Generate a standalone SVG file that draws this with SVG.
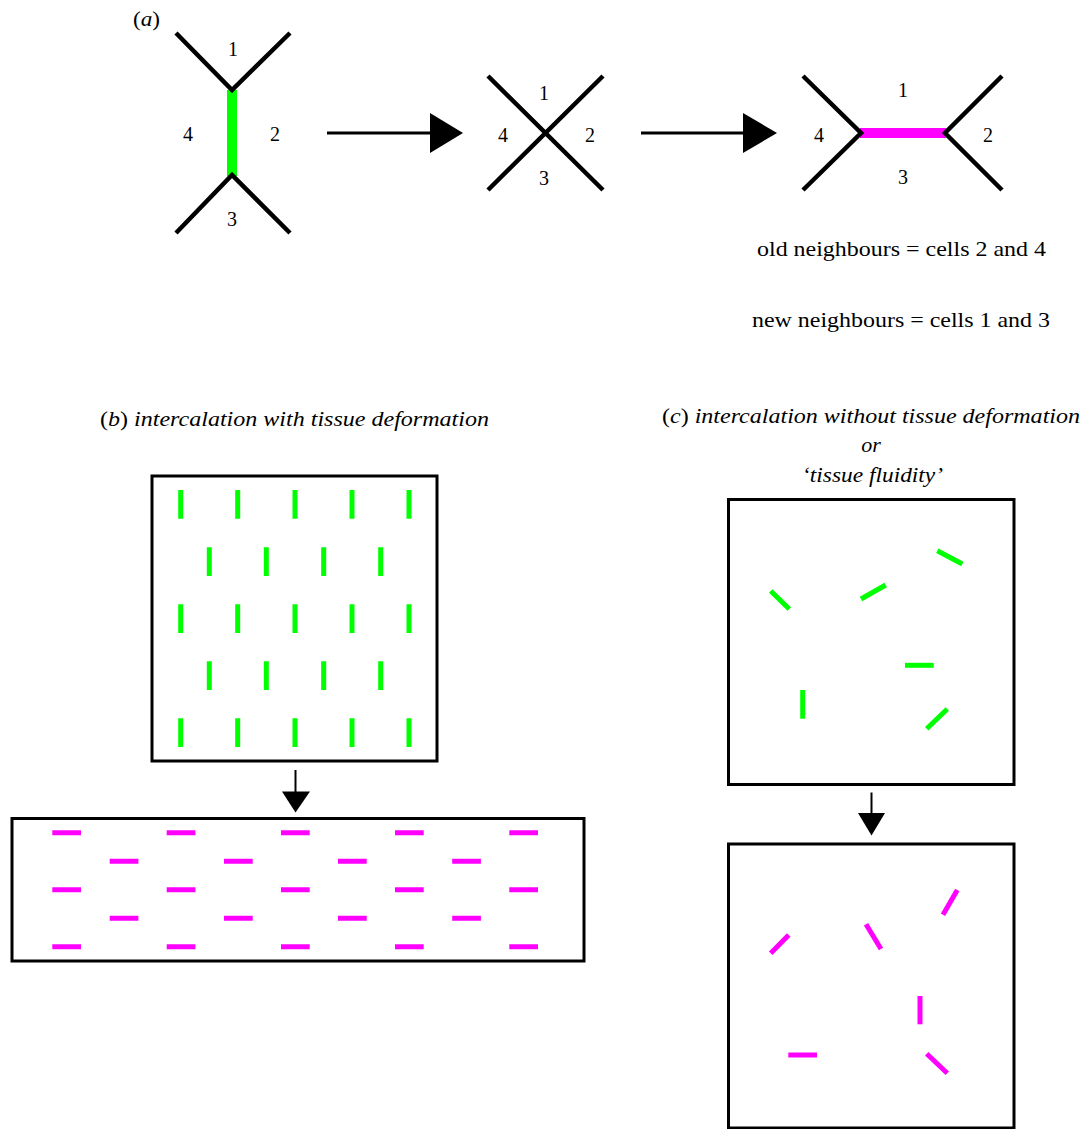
<svg xmlns="http://www.w3.org/2000/svg" width="1085" height="1129" viewBox="0 0 1085 1129">
<style>
text{font-family:"Liberation Serif","Times New Roman",serif;font-size:20px;fill:#000}
.t{font-size:22px}
.it{font-style:italic}
.k{stroke:#000;stroke-width:4.5;stroke-linecap:butt;fill:none}
.g{stroke:#00ff00;stroke-width:5;fill:none}
.m{stroke:#ff00ff;stroke-width:5;fill:none}
.box{fill:#fff;stroke:#000;stroke-width:3}
.ar{stroke:#000;stroke-width:3;fill:none}
.ar2{stroke:#000;stroke-width:2;fill:none}
</style>
<rect width="1085" height="1129" fill="#fff"/>
<g id="panel-a">
<text x="133" y="26" class="t" textLength="27" lengthAdjust="spacingAndGlyphs">(<tspan class="it">a</tspan>)</text>
<g id="junction-before">
<line class="g" x1="232" y1="90" x2="232" y2="176" style="stroke-width:10"/>
<path class="k" d="M176,33 L232,90 L290,33 M176,233 L232,175 L290,233"/>
<text x="233" y="56" text-anchor="middle">1</text>
<text x="188" y="141" text-anchor="middle">4</text>
<text x="275" y="141" text-anchor="middle">2</text>
<text x="232" y="226" text-anchor="middle">3</text>
</g>
<g id="junction-mid">
<path class="k" d="M488,76 L603,190 M603,76 L488,190"/>
<text x="544" y="100" text-anchor="middle">1</text>
<text x="503" y="142" text-anchor="middle">4</text>
<text x="590" y="142" text-anchor="middle">2</text>
<text x="544" y="185" text-anchor="middle">3</text>
</g>
<g id="junction-after">
<line class="m" x1="860" y1="133" x2="946" y2="133" style="stroke-width:10"/>
<path class="k" d="M803,76 L861,133 L803,190 M1002,76 L945,133 L1002,190"/>
<text x="903" y="97" text-anchor="middle">1</text>
<text x="819" y="142" text-anchor="middle">4</text>
<text x="988" y="142" text-anchor="middle">2</text>
<text x="903" y="184" text-anchor="middle">3</text>
</g>
<text x="757" y="256" class="t" textLength="289" lengthAdjust="spacingAndGlyphs">old neighbours = cells 2 and 4</text>
<text x="752" y="327" class="t" textLength="298" lengthAdjust="spacingAndGlyphs">new neighbours = cells 1 and 3</text>
</g>
<g id="connectors">
<line class="ar" x1="327" y1="133" x2="432" y2="133"/>
<polygon points="430,113 463,133 430,153" fill="#000"/>
<line class="ar" x1="641" y1="133" x2="745" y2="133"/>
<polygon points="743,113 777,133 743,153" fill="#000"/>
<line class="ar2" x1="295.5" y1="770" x2="295.5" y2="793"/>
<polygon points="282,791.5 310,791.5 295.5,812.5" fill="#000"/>
<line class="ar2" x1="871.5" y1="792.5" x2="871.5" y2="815"/>
<polygon points="858,813 885,813 871.5,835.5" fill="#000"/>
</g>
<g id="panel-b">
<text x="100" y="426" class="t" textLength="389" lengthAdjust="spacingAndGlyphs">(<tspan class="it">b</tspan>) <tspan class="it">intercalation with tissue deformation</tspan></text>
<g id="box-b-top">
<rect class="box" x="152" y="476" width="285" height="285"/>
<g class="g">
<path d="M180.7,490V518.7M237.7,490V518.7M295,490V518.7M352,490V518.7M409,490V518.7"/>
<path d="M209.3,547.3V576M266.3,547.3V576M323.7,547.3V576M380.7,547.3V576"/>
<path d="M180.7,604.3V633M237.7,604.3V633M295,604.3V633M352,604.3V633M409,604.3V633"/>
<path d="M209.3,661.3V690M266.3,661.3V690M323.7,661.3V690M380.7,661.3V690"/>
<path d="M180.7,718.3V747M237.7,718.3V747M295,718.3V747M352,718.3V747M409,718.3V747"/>
</g>
</g>
<g id="box-b-bottom">
<rect class="box" x="12" y="818.5" width="572" height="142.5"/>
<g class="m">
<path d="M52.3,832.7h28.7M166.7,832.7h28.7M281,832.7h28.7M395,832.7h28.7M509.3,832.7h28.7"/>
<path d="M109.7,861.2h28.7M224,861.2h28.7M338,861.2h28.7M452.2,861.2h28.7"/>
<path d="M52.3,889.7h28.7M166.7,889.7h28.7M281,889.7h28.7M395,889.7h28.7M509.3,889.7h28.7"/>
<path d="M109.7,918.2h28.7M224,918.2h28.7M338,918.2h28.7M452.2,918.2h28.7"/>
<path d="M52.3,946.7h28.7M166.7,946.7h28.7M281,946.7h28.7M395,946.7h28.7M509.3,946.7h28.7"/>
</g>
</g>
</g>
<g id="panel-c">
<text x="662" y="423" class="t" textLength="418" lengthAdjust="spacingAndGlyphs">(<tspan class="it">c</tspan>) <tspan class="it">intercalation without tissue deformation</tspan></text>
<text x="871" y="452" text-anchor="middle" class="t it">or</text>
<text x="802" y="482" class="t it" textLength="141" lengthAdjust="spacingAndGlyphs">‘tissue fluidity’</text>
<g id="box-c-top">
<rect class="box" x="728.5" y="499.5" width="285.5" height="285"/>
<g class="g">
<path d="M770.7,591L789.3,609"/>
<path d="M861,599L885.7,585"/>
<path d="M937.3,550.7L962.3,564"/>
<path d="M905,665.3H933.7"/>
<path d="M802.7,690V718.7"/>
<path d="M926.7,728.7L947.3,709"/>
</g>
</g>
<g id="box-c-bottom">
<rect class="box" x="728.5" y="844" width="285.5" height="284"/>
<g class="m">
<path d="M770.7,953.3L788.7,935"/>
<path d="M866,924.3L881,949"/>
<path d="M943,914.7L957.3,890"/>
<path d="M920,996V1024.3"/>
<path d="M788.3,1055H817"/>
<path d="M926.7,1053.7L947.3,1073.3"/>
</g>
</g>
</g>
</svg>
